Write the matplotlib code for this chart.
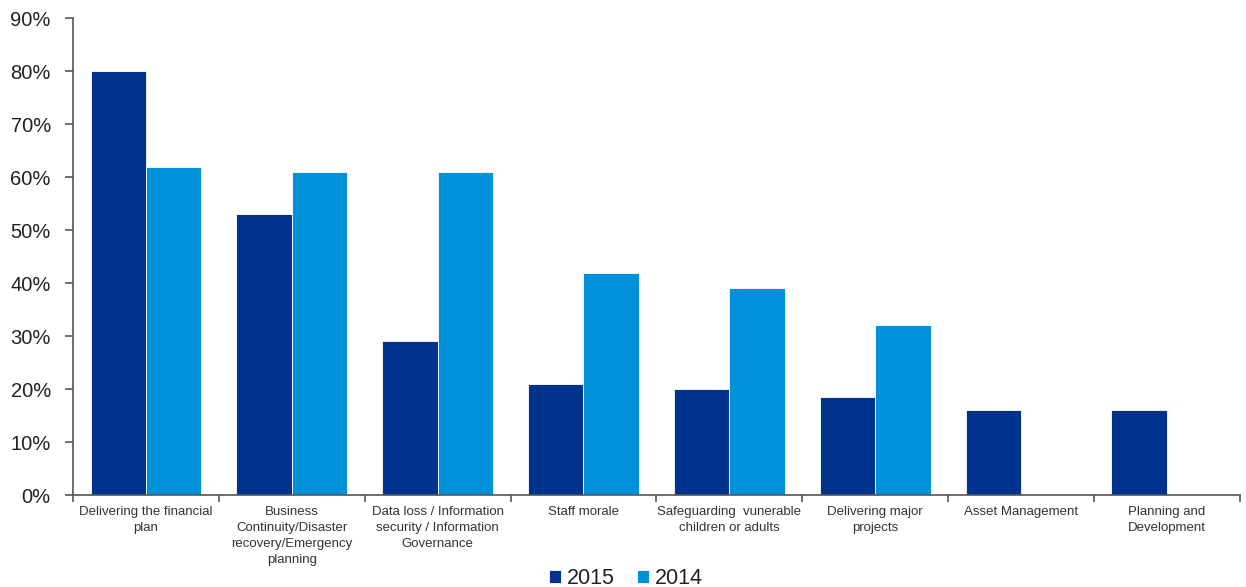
import numpy as np
import matplotlib.pyplot as plt
from matplotlib.ticker import FixedLocator, PercentFormatter

plt.rcParams['font.family'] = ['Liberation Sans', 'DejaVu Sans']

categories = [
    "Delivering the financial\nplan",
    "Business\nContinuity/Disaster\nrecovery/Emergency\nplanning",
    "Data loss / Information\nsecurity / Information\nGovernance",
    "Staff morale",
    "Safeguarding  vunerable\nchildren or adults",
    "Delivering major\nprojects",
    "Asset Management",
    "Planning and\nDevelopment",
]
values_2015 = [80, 53, 29, 21, 20, 18.5, 16, 16]
values_2014 = [62, 61, 61, 42, 39, 32, 0, 0]
series_labels = ["2015", "2014"]
colors = ["#00338D", "#0091DA"]

fig = plt.figure(figsize=(12.46, 5.87), dpi=100)
ax = fig.add_axes([0.0586, 0.1567, 0.9364, 0.8123])

x = np.arange(len(categories)) + 0.5
w = 0.38
ax.bar(x - w / 2, values_2015, w, color=colors[0], edgecolor="white", linewidth=0.6, label=series_labels[0])
ax.bar(x + w / 2, values_2014, w, color=colors[1], edgecolor="white", linewidth=0.6, label=series_labels[1])

ax.set_xlim(0, len(categories))
ax.set_ylim(0, 90)
ax.set_yticks(np.arange(0, 91, 10))
ax.yaxis.set_major_formatter(PercentFormatter(decimals=0))

# boundaries get tick marks, centres get the labels
ax.xaxis.set_major_locator(FixedLocator(np.arange(len(categories) + 1)))
ax.xaxis.set_minor_locator(FixedLocator(x))
ax.set_xticklabels([""] * (len(categories) + 1))
ax.set_xticklabels(categories, minor=True, linespacing=1.45)

spine_col = "#555555"
for s in ["top", "right"]:
    ax.spines[s].set_visible(False)
for s in ["left", "bottom"]:
    ax.spines[s].set_color(spine_col)
    ax.spines[s].set_linewidth(1.2)

ax.tick_params(axis="y", length=6, width=1.2, color=spine_col, labelsize=14.5, labelcolor="#222222", pad=10)
ax.tick_params(axis="x", which="major", length=5, width=1.2, color=spine_col)
ax.tick_params(axis="x", which="minor", length=0, labelsize=9.5, labelcolor="#333333", pad=8)

ax.legend(loc="center", bbox_to_anchor=(0.474, -0.176), ncol=2, frameon=False,
          fontsize=15.5, handlelength=0.55, handleheight=0.55, handletextpad=0.3,
          columnspacing=1.0, labelcolor="#222222")

fig.savefig("out.png", dpi=100)
